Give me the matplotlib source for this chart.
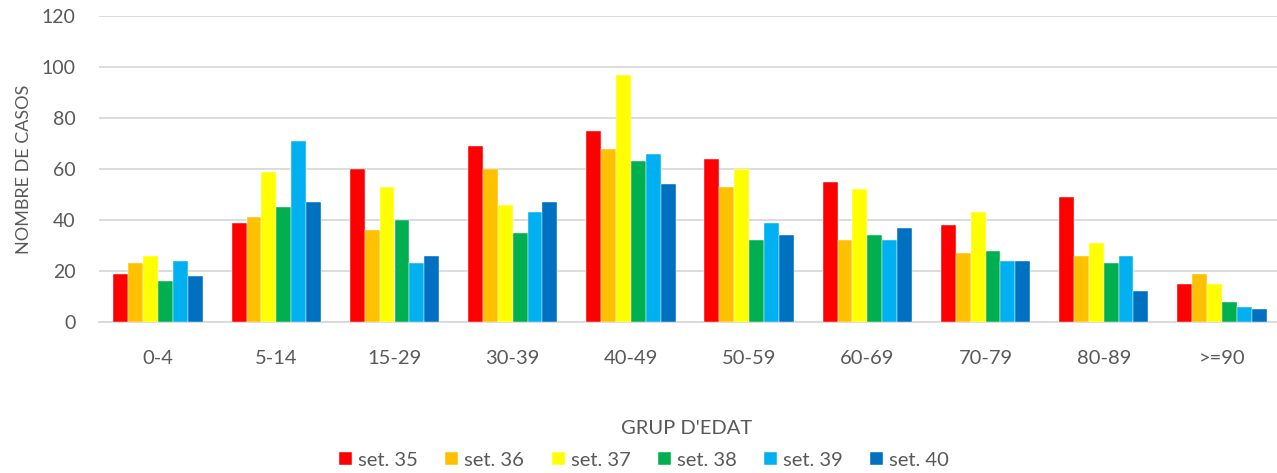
import matplotlib
matplotlib.use("Agg")
import matplotlib.pyplot as plt
import numpy as np

categories = ["0-4", "5-14", "15-29", "30-39", "40-49", "50-59", "60-69", "70-79", "80-89", ">=90"]
series_names = ["set. 35", "set. 36", "set. 37", "set. 38", "set. 39", "set. 40"]
set35 = [19, 39, 60, 69, 75, 64, 55, 38, 49, 15]
set36 = [23, 41, 36, 60, 68, 53, 32, 27, 26, 19]
set37 = [26, 59, 53, 46, 97, 60, 52, 43, 31, 15]
set38 = [16, 45, 40, 35, 63, 32, 34, 28, 23, 8]
set39 = [24, 71, 23, 43, 66, 39, 32, 24, 26, 6]
set40 = [18, 47, 26, 47, 54, 34, 37, 24, 12, 5]
yticks = [0, 20, 40, 60, 80, 100, 120]

series = [set35, set36, set37, set38, set39, set40]
colors = ["#FF0000", "#FFC000", "#FFFF00", "#00B050", "#00B0F0", "#0070C0"]
text_color = "#595959"

plt.rcParams['font.family'] = ['Lato', 'DejaVu Sans']

fig = plt.figure(figsize=(12.77, 4.73), dpi=100)
# plot area: x from 99 px, 118.2 px per category (extends slightly past the right edge)
ax = fig.add_axes([99 / 1277, 1 - 322 / 473, 1182 / 1277, 306 / 473])

x = np.arange(len(categories))
n = len(series)
group_w = 0.755
bw = group_w / n
for i, (vals, name, c) in enumerate(zip(series, series_names, colors)):
    ax.bar(x - group_w / 2 + bw * (i + 0.5), vals, width=bw, color=c, label=name,
           edgecolor='white', linewidth=0.3, zorder=3)

ax.set_xlim(-0.5, len(categories) - 0.5)
ax.set_ylim(0, 120)
ax.set_yticks(yticks)
ax.set_xticks(x)
ax.set_xticklabels(categories)
ax.yaxis.grid(True, color="#D9D9D9", linewidth=1.3, zorder=0)
ax.set_axisbelow(True)
for s in ["top", "right", "left"]:
    ax.spines[s].set_visible(False)
ax.spines["bottom"].set_color("#D9D9D9")
ax.spines["bottom"].set_linewidth(1.3)
ax.tick_params(axis='both', length=0, colors=text_color)
ax.tick_params(axis='x', pad=20, labelsize=14.5)
ax.tick_params(axis='y', pad=17, labelsize=14)

ax.set_ylabel("NOMBRE DE CASOS", color=text_color, fontsize=13, labelpad=7)
fig.text(687 / 1277, 1 - 428 / 473, "GRUP D'EDAT", color=text_color, fontsize=14.5,
         ha='center', va='center')

leg = fig.legend(loc='center', bbox_to_anchor=(644 / 1277, 1 - 460 / 473), ncol=6, frameon=False,
                 fontsize=14.5, handlelength=0.65, handleheight=0.65, handletextpad=0.3,
                 columnspacing=1.35, borderpad=0)
for t in leg.get_texts():
    t.set_color(text_color)

fig.savefig("out.png", dpi=100)
